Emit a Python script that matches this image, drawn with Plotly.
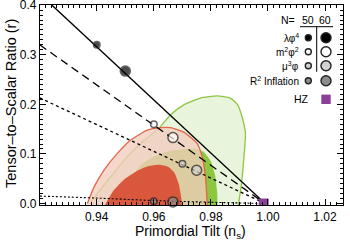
import plotly.graph_objects as go

# ---------------- data ----------------
# model predictions (N = 50, N = 60)
ns_lambda = [0.94, 0.95]
r_lambda = [0.32, 0.267]
ns_m2 = [0.96, 0.9667]
r_m2 = [0.16, 0.133]
ns_mu3 = [0.97, 0.975]
r_mu3 = [0.08, 0.067]
ns_r2 = [0.96, 0.9667]
r_r2 = [0.0048, 0.0033]

# model tracks
lam_line_ns = [0.9243, 0.999]
lam_line_r = [0.40, 0.0]
m2_line_ns = [0.92, 0.999]
m2_line_r = [0.32, 0.0]
mu3_line_ns = [0.92, 0.999]
mu3_line_r = [0.213, 0.0]
r2_line_ns = [0.92, 0.94, 0.96, 0.98, 0.999]
r2_line_r = [0.015, 0.011, 0.006, 0.0025, 0.0]

# Harrison-Zeldovich
hz_ns = [0.9985]
hz_r = [0.0]

# constraint contours (boundary points)
green2_ns = [0.9380, 0.9449, 0.9507, 0.9548, 0.9618, 0.9659, 0.9705, 0.9763, 0.9822,
             0.9868, 0.9894, 0.9909, 0.9921, 0.9915, 0.9906, 0.9897, 0.9895, 0.9375]
green2_r = [0.0036, 0.054, 0.0945, 0.118, 0.152, 0.179, 0.199, 0.2125, 0.217,
            0.2125, 0.199, 0.175, 0.142, 0.088, 0.034, 0.0, -0.01, -0.01]

green1_ns = [0.9490, 0.9505, 0.9530, 0.9560, 0.9590, 0.9625, 0.9665, 0.9711, 0.9750,
             0.9775, 0.9800, 0.9815, 0.9822, 0.9823, 0.9823, 0.9490]
green1_r = [0.0, 0.03, 0.06, 0.080, 0.092, 0.101, 0.107, 0.110, 0.110,
            0.104, 0.085, 0.056, 0.022, 0.0, -0.01, -0.01]

red2_ns = [0.9367, 0.9391, 0.9426, 0.9472, 0.9519, 0.9577, 0.9624, 0.9659, 0.9705,
           0.9752, 0.9769, 0.9781, 0.9787, 0.9788, 0.9365]
red2_r = [0.0, 0.034, 0.068, 0.101, 0.128, 0.148, 0.153, 0.153, 0.144,
          0.121, 0.095, 0.054, 0.0, -0.01, -0.01]

red1_ns = [0.9431, 0.9460, 0.9495, 0.9542, 0.9580, 0.9620, 0.9650, 0.9672, 0.9688,
           0.9696, 0.9698, 0.9698, 0.9430]
red1_r = [0.0, 0.027, 0.048, 0.066, 0.075, 0.078, 0.074, 0.062, 0.038,
          0.012, 0.0, -0.01, -0.01]

# legend
legend_labels = ["λφ<sup>4</sup>", "m<sup>2</sup>φ<sup>2</sup>", "μ<sup>3</sup>φ", "R<sup>2</sup> Inflation"]
legend_fill = ["black", "white", "#d2d2d2", "#8c8c8c"]
legend_cols = ["50", "60"]

x_ticks = [0.94, 0.96, 0.98, 1.00, 1.02]
y_ticks = [0.0, 0.1, 0.2, 0.3, 0.4]

FONT = "Liberation Sans, Arial, Helvetica, sans-serif"

fig = go.Figure()

# contours
fig.add_trace(go.Scatter(x=green2_ns, y=green2_r, mode="lines", fill="toself",
                         fillcolor="#e9f4dd", line=dict(color="#8dc63f", width=1.3, shape="spline", smoothing=0.5),
                         hoverinfo="skip"))
fig.add_trace(go.Scatter(x=green1_ns, y=green1_r, mode="lines", fill="toself",
                         fillcolor="#8dc63f", line=dict(color="#8dc63f", width=0, shape="spline", smoothing=0.5),
                         hoverinfo="skip"))
fig.add_trace(go.Scatter(x=red2_ns, y=red2_r, mode="lines", fill="toself",
                         fillcolor="rgba(242,204,189,0.79)", line=dict(color="#e0674a", width=1.3, shape="spline", smoothing=0.5),
                         hoverinfo="skip"))
fig.add_trace(go.Scatter(x=red1_ns, y=red1_r, mode="lines", fill="toself",
                         fillcolor="#d9573d", line=dict(color="#d9573d", width=0, shape="spline", smoothing=0.5),
                         hoverinfo="skip"))

# tracks
fig.add_trace(go.Scatter(x=r2_line_ns, y=r2_line_r, mode="lines",
                         line=dict(color="black", width=1.1, dash="2px,2px", shape="spline")))
fig.add_trace(go.Scatter(x=mu3_line_ns, y=mu3_line_r, mode="lines",
                         line=dict(color="black", width=1.3, dash="3px,3px")))
fig.add_trace(go.Scatter(x=m2_line_ns, y=m2_line_r, mode="lines",
                         line=dict(color="black", width=1.3, dash="8px,5px")))
fig.add_trace(go.Scatter(x=lam_line_ns, y=lam_line_r, mode="lines",
                         line=dict(color="black", width=1.3)))

# points
sizes = [6.5, 10]
for xs, ys, col in [(ns_lambda, r_lambda, "black"), (ns_m2, r_m2, "white"),
                    (ns_mu3, r_mu3, "#d2d2d2"), (ns_r2, r_r2, "#8c8c8c")]:
    fig.add_trace(go.Scatter(x=xs, y=ys, mode="markers", cliponaxis=False,
                             marker=dict(size=sizes, color=col, line=dict(color="#222222", width=1.5))))

fig.add_trace(go.Scatter(x=hz_ns, y=hz_r, mode="markers", cliponaxis=True,
                         marker=dict(symbol="square", size=10, color="#8b3f98", line=dict(width=0))))

# ---------------- legend (paper coordinates) ----------------
def px(x):
    return (x - 40) / 303.0

def py(y):
    return (205 - y) / 200.0

shapes = []
annotations = []
row_y = [37.7, 51.7, 65.7, 80.7]
small_x, big_x = 308.3, 326.0
for lab, col, yy in zip(legend_labels, legend_fill, row_y):
    annotations.append(dict(x=px(301), y=py(yy), xref="paper", yref="paper", text=lab,
                            showarrow=False, xanchor="right", yanchor="middle",
                            font=dict(family=FONT, size=10, color="black")))
    for cx, r in [(small_x, 3.0), (big_x, 5.0)]:
        shapes.append(dict(type="circle", xref="paper", yref="paper", xsizemode="pixel", ysizemode="pixel",
                           xanchor=px(cx), yanchor=py(yy), x0=-r, x1=r, y0=-r, y1=r,
                           fillcolor=col, line=dict(color="#222222", width=1.4), layer="above"))
annotations.append(dict(x=px(297), y=py(20), xref="paper", yref="paper", text="N=",
                        showarrow=False, xanchor="right", yanchor="middle",
                        font=dict(family=FONT, size=10.5, color="black")))
for t, cx in zip(legend_cols, [307.5, 325.0]):
    annotations.append(dict(x=px(cx), y=py(20), xref="paper", yref="paper", text=t,
                            showarrow=False, xanchor="center", yanchor="middle",
                            font=dict(family=FONT, size=10.5, color="black")))
shapes.append(dict(type="line", xref="paper", yref="paper", x0=px(300), x1=px(333), y0=py(26.7), y1=py(26.7),
                   line=dict(color="black", width=1), layer="above"))
shapes.append(dict(type="line", xref="paper", yref="paper", x0=px(316.7), x1=px(316.7), y0=py(26.7), y1=py(71.7),
                   line=dict(color="black", width=1), layer="above"))
annotations.append(dict(x=px(311), y=py(99.3), xref="paper", yref="paper", text="HZ",
                        showarrow=False, xanchor="right", yanchor="middle",
                        font=dict(family=FONT, size=10.5, color="black")))
shapes.append(dict(type="rect", xref="paper", yref="paper", xsizemode="pixel", ysizemode="pixel",
                   xanchor=px(326), yanchor=py(99.3), x0=-4.7, x1=4.7, y0=-4.7, y1=4.7,
                   fillcolor="#8b3f98", line=dict(width=0), layer="above"))

# axis titles
annotations.append(dict(x=px(190.5), y=py(232), xref="paper", yref="paper",
                        text="Primordial Tilt (n<sub>s</sub>)", showarrow=False,
                        xanchor="center", yanchor="middle",
                        font=dict(family=FONT, size=14, color="black")))
annotations.append(dict(x=px(11), y=py(104), xref="paper", yref="paper",
                        text="Tensor–to–Scalar Ratio (r)", showarrow=False, textangle=-90,
                        xanchor="center", yanchor="middle",
                        font=dict(family=FONT, size=14.5, color="black")))

axis_common = dict(showline=True, linecolor="black", linewidth=1.3, mirror="allticks",
                   ticks="inside", ticklen=6, tickwidth=1, tickcolor="black",
                   showgrid=False, zeroline=False, automargin=False,
                   ticklabeloverflow="allow",
                   tickfont=dict(family=FONT, size=12, color="black"))

fig.update_layout(
    width=350, height=243,
    margin=dict(l=40, r=7, t=5, b=38, autoexpand=False),
    paper_bgcolor="white", plot_bgcolor="white",
    showlegend=False,
    xaxis=dict(range=[0.9201, 1.0263], tickvals=x_ticks,
               ticktext=[f"{v:.2f}" for v in x_ticks],
               minor=dict(dtick=0.002, ticks="inside", ticklen=3, tickwidth=1, tickcolor="black"),
               **axis_common),
    yaxis=dict(range=[-0.003, 0.4003], tickvals=y_ticks,
               ticktext=[f"{v:.1f}" for v in y_ticks],
               minor=dict(dtick=0.01, ticks="inside", ticklen=3, tickwidth=1, tickcolor="black"),
               **axis_common),
    shapes=shapes,
    annotations=annotations,
)

fig.write_html("out.html", config={"displayModeBar": False},
               post_script="document.body.style.margin='0';document.body.style.padding='0';"
                           "document.documentElement.style.overflow='hidden';")
